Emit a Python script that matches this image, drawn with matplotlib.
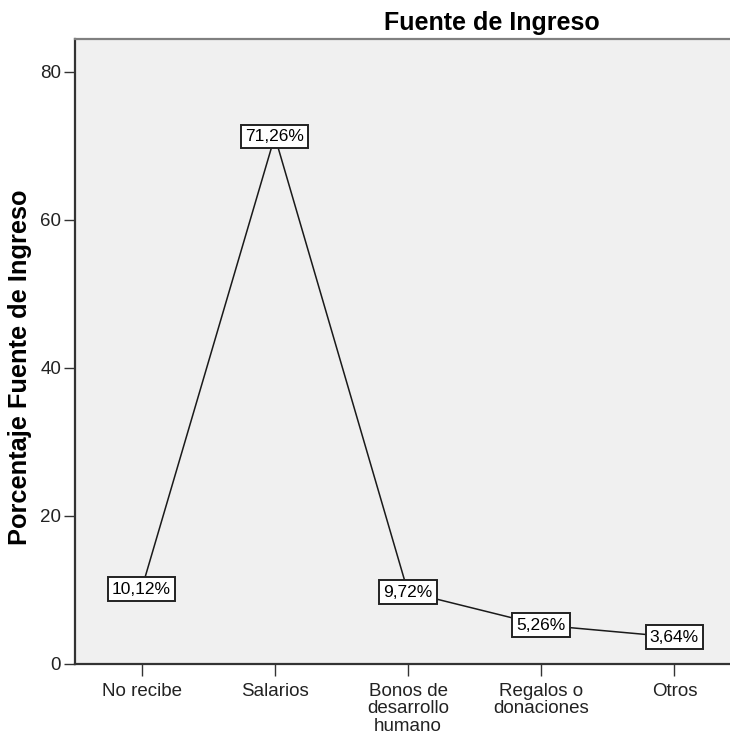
import matplotlib
matplotlib.use("Agg")
import matplotlib.pyplot as plt

plt.rcParams['font.family'] = ['Liberation Sans', 'DejaVu Sans']

categories = ["No recibe", "Salarios", "Bonos de\ndesarrollo\nhumano", "Regalos o\ndonaciones", "Otros"]
percentages = [10.12, 71.26, 9.72, 5.26, 3.64]
y_ticks = [0, 20, 40, 60, 80]

W, H = 730, 743
fig = plt.figure(figsize=(W / 100, H / 100), dpi=100)
left, right, top, bottom = 75, 741, 39, 664
ax = fig.add_axes([left / W, 1 - bottom / H, (right - left) / W, (bottom - top) / H])
ax.set_facecolor('#F0F0F0')

x = list(range(len(categories)))
ax.plot(x, percentages, color='#1a1a1a', linewidth=1.1, zorder=2)

for xi, v in zip(x, percentages):
    ax.text(xi, v, f"{v:.2f}%".replace('.', ','), ha='center', va='center',
            fontsize=12.5, color='black', zorder=3,
            bbox=dict(boxstyle='square,pad=0.24', facecolor='white',
                      edgecolor='#222222', linewidth=1.4))

ax.set_xlim(-0.5, len(categories) - 0.5)
ax.set_ylim(0, 84.4)
ax.set_yticks(y_ticks)
ax.set_xticks(x)
ax.set_xticklabels(categories, fontsize=13.5, linespacing=1.03, color='#222222')
ax.tick_params(axis='y', labelsize=13.5, length=8, width=1, colors='#333333', pad=2)
ax.tick_params(axis='x', length=8.5, width=1, colors='#333333', pad=5)
for lbl in ax.get_yticklabels() + ax.get_xticklabels():
    lbl.set_color('#222222')

for side in ['left', 'bottom']:
    ax.spines[side].set_color('#333333')
    ax.spines[side].set_linewidth(1.6)
ax.spines['top'].set_color('#808080')
ax.spines['top'].set_linewidth(1.6)
ax.spines['right'].set_visible(False)

fig.text(20 / W, 1 - 367 / H, "Porcentaje Fuente de Ingreso", rotation=90,
         ha='center', va='center', fontsize=18.3, fontweight='bold')
fig.text(492 / W, 1 - 23 / H, "Fuente de Ingreso", ha='center', va='center',
         fontsize=18, fontweight='bold')

fig.savefig("out.png", dpi=100)
